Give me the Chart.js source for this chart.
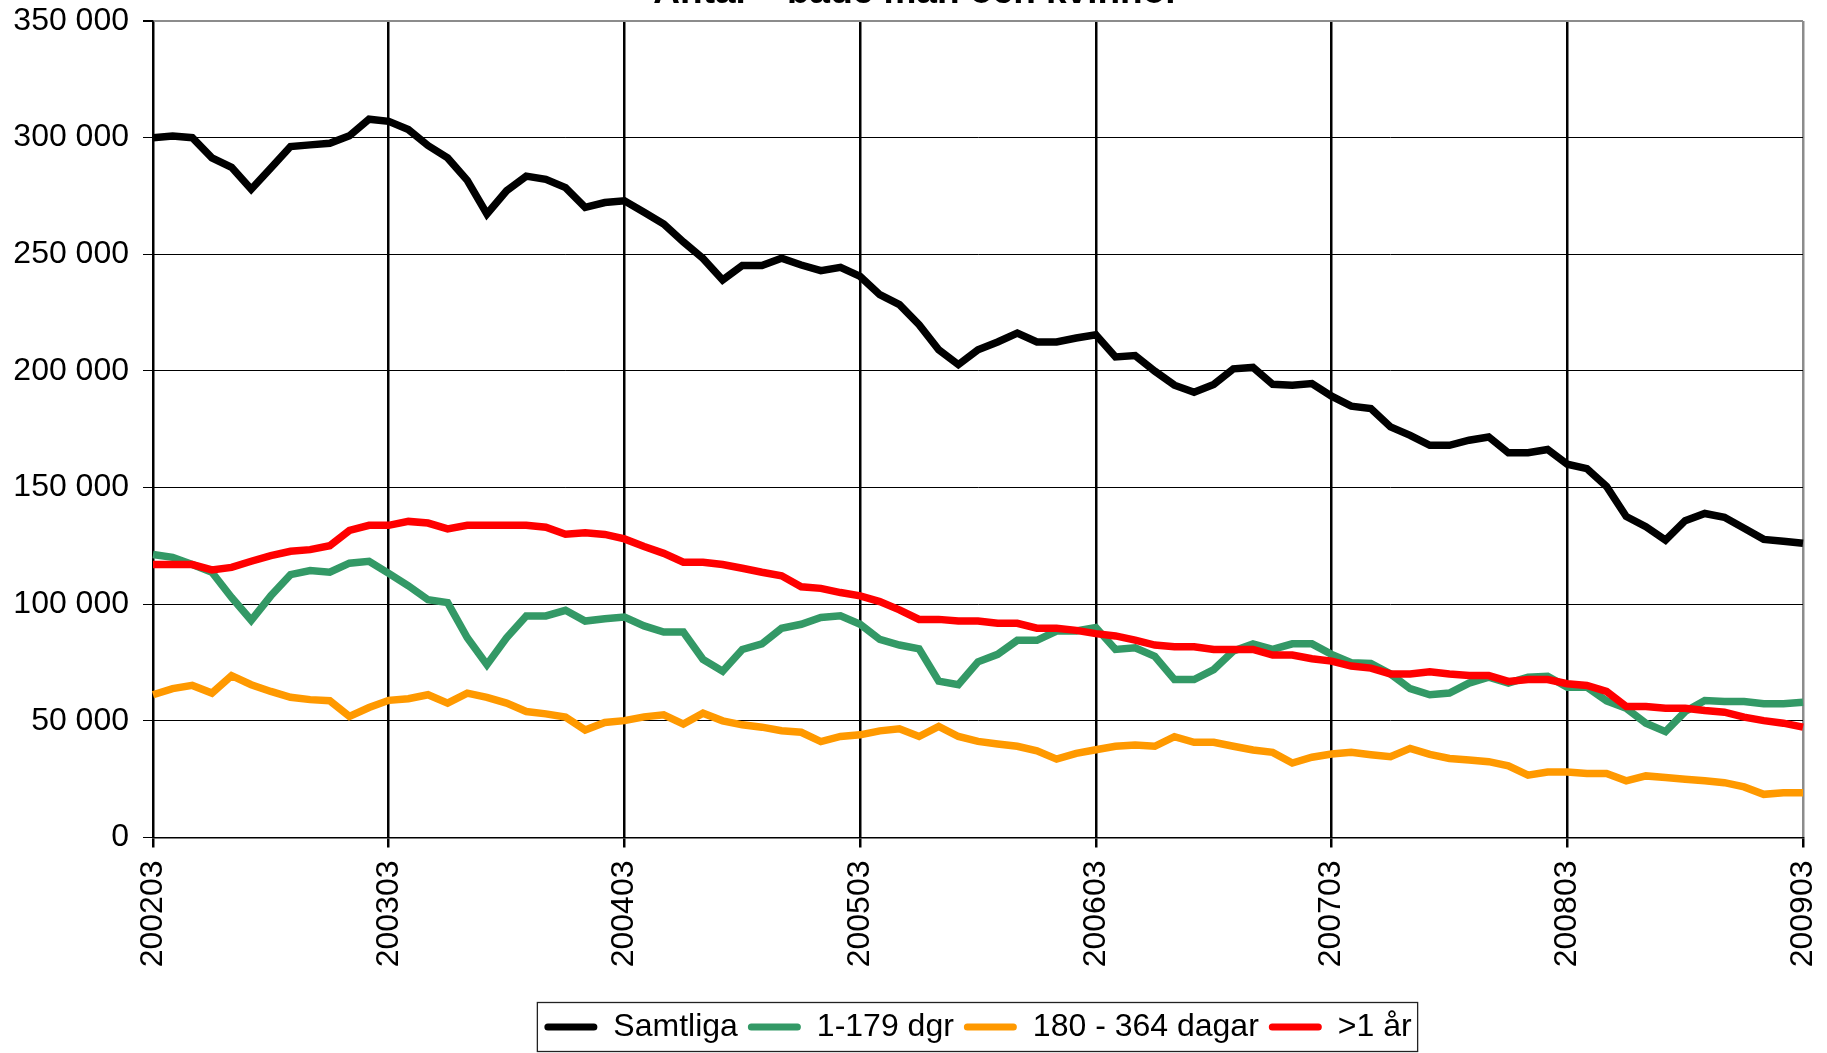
<!DOCTYPE html>
<html>
<head>
<meta charset="utf-8">
<script src="https://cdn.jsdelivr.net/npm/chart.js@4.4.0/dist/chart.umd.min.js"></script>
<style>
  html, body { margin: 0; padding: 0; background: #fff; overflow: hidden; }
  canvas { display: block; }
</style>
</head>
<body>
<canvas id="chart" width="1827" height="1053"></canvas>
<script>
"use strict";

// --- data --------------------------------------------------------------------
const TITLE = "Antal \u2013 både män och kvinnor";
const FIRST_YEAR = 2002, LAST_YEAR = 2009;
const months = [];
for (let y = FIRST_YEAR; y <= LAST_YEAR; y++) {
  for (let m = 1; m <= 12; m++) {
    if (y === FIRST_YEAR && m < 3) continue;
    if (y === LAST_YEAR && m > 3) break;
    months.push(String(y) + String(m).padStart(2, "0"));
  }
}

const seriesNames = ["Samtliga", "1-179 dgr", "180 - 364 dagar", ">1 år"];

const samtliga = [
  300000, 300700, 300000, 291300, 287300, 277900, 287000, 296200, 296900, 297600, 300800, 307900,
  307000, 303500, 296600, 291300, 281700, 267300, 277200, 283500, 282100, 278600, 270100, 272200,
  272900, 268000, 263000, 255300, 248200, 239000, 245200, 245200, 248300, 245400, 243000, 244400,
  240500, 232700, 228400, 219800, 209100, 202700, 209100, 212400, 216200, 212400, 212400, 214100,
  215500, 206000, 206600, 199900, 193900, 190900, 194200, 200900, 201500, 194300, 193900, 194600,
  189200, 184900, 183900, 176000, 172400, 168100, 168100, 170300, 171700, 164900, 164900, 166300,
  160000, 158100, 150500, 137600, 133200, 127500, 135800, 138900, 137300, 132600, 127800, 127000,
  126100
];
const dgr1_179 = [
  121300, 120100, 117000, 113700, 102900, 93100, 103600, 112700, 114400, 113700, 117600, 118400,
  113200, 107900, 101900, 100700, 85600, 74100, 85600, 95000, 95000, 97400, 92800, 93800,
  94500, 90700, 88100, 88100, 76300, 71300, 80600, 83000, 89700, 91400, 94300, 95000,
  91400, 84900, 82500, 80900, 67000, 65500, 75300, 78500, 84500, 84500, 88500, 88500,
  90000, 80600, 81300, 77700, 67700, 67700, 72000, 79900, 83000, 80600, 83000, 83000,
  78500, 74900, 74600, 70100, 63800, 61200, 61900, 66200, 68700, 66200, 68700, 69100,
  64400, 64400, 58600, 55400, 49000, 45400, 54000, 58700, 58300, 58300, 57300, 57300,
  58000
];
const dagar180_364 = [
  61200, 63800, 65200, 61900, 69400, 65500, 62600, 60100, 59100, 58600, 51900, 55700,
  58800, 59500, 61200, 57600, 61900, 60100, 57600, 54000, 53000, 51600, 46100, 49300,
  50100, 51700, 52600, 48600, 53300, 50000, 48300, 47300, 45800, 45100, 41100, 43300,
  44000, 45700, 46600, 43300, 47600, 43300, 41200, 40100, 39100, 37200, 33600, 36100,
  37600, 39100, 39700, 39100, 43200, 40800, 40800, 39100, 37500, 36500, 31900, 34400,
  35800, 36500, 35500, 34600, 38200, 35600, 33900, 33200, 32500, 30700, 26700, 28100,
  28100, 27400, 27400, 24300, 26400, 25700, 25000, 24300, 23500, 21700, 18500, 19200,
  19200
];
const over1ar = [
  117000, 117000, 117000, 114700, 115800, 118400, 120800, 122700, 123400, 125100, 131600, 133800,
  133800, 135500, 134800, 132300, 133800, 133800, 133800, 133800, 133000, 130000, 130600, 129900,
  128000, 124700, 121800, 118000, 118000, 117000, 115400, 113700, 112200, 107500, 106800, 105000,
  103600, 101100, 97600, 93500, 93500, 92800, 92800, 91800, 91800, 89700, 89700, 88800,
  87400, 86400, 84600, 82500, 81800, 81800, 80600, 80600, 80600, 78200, 78200, 76600,
  75600, 73500, 72600, 70100, 70100, 71000, 70100, 69400, 69400, 66900, 67700, 67700,
  65900, 65200, 62600, 56200, 56200, 55400, 55400, 54400, 53700, 51600, 50100, 49000,
  47300
];

const Y_MAX = 350000, Y_STEP = 50000;

// --- stil ----------------------------------------------------------------------
const FONT = '"Liberation Sans", Arial, sans-serif';
const COLORS = ["#000000", "#339966", "#ff9900", "#ff0000"];
Chart.defaults.font.family = FONT;
Chart.defaults.font.size = 32;
Chart.defaults.color = "#000";

function fmtThousands(v) {
  return String(v).replace(/\B(?=(\d{3})+(?!\d))/g, " ");
}

// titeln sticker upp ovanför bilden, bara nederkanten syns
const titlePlugin = {
  id: "cutTitle",
  afterDraw(chart) {
    const ctx = chart.ctx;
    ctx.save();
    ctx.font = "bold 37px " + FONT;
    ctx.fillStyle = "#000";
    ctx.textAlign = "center";
    ctx.textBaseline = "alphabetic";
    ctx.fillText(TITLE, chart.width / 2 + 3, 3);
    ctx.restore();
  }
};

// ram runt legenden
const legendBox = {
  id: "legendBox",
  afterDraw(chart) {
    const hb = chart.legend && chart.legend.legendHitBoxes;
    if (!hb || !hb.length) return;
    const last = hb[hb.length - 1];
    const cy = hb[0].top + hb[0].height / 2;
    const ctx = chart.ctx;
    ctx.save();
    ctx.strokeStyle = "#222";
    ctx.lineWidth = 1.3;
    ctx.strokeRect(hb[0].left - 7, cy - 24.5, last.left + last.width + 6 - (hb[0].left - 7), 49);
    ctx.restore();
  }
};

const datasets = [samtliga, dgr1_179, dagar180_364, over1ar].map((d, i) => ({
  label: seriesNames[i],
  data: d,
  borderColor: COLORS[i],
  backgroundColor: COLORS[i],
  borderWidth: 7.5,
  pointRadius: 0,
  tension: 0,
  order: 3 - i          // sista serien ritas överst, som i Excel
}));

new Chart(document.getElementById("chart"), {
  type: "line",
  data: { labels: months, datasets },
  plugins: [titlePlugin, legendBox],
  options: {
    responsive: false,
    animation: false,
    layout: { padding: { left: 0, right: 24, top: 21, bottom: 0 } },
    elements: { line: { borderJoinStyle: "miter", borderCapStyle: "butt" } },
    plugins: {
      tooltip: { enabled: false },
      legend: {
        position: "bottom",
        fullSize: false,
        labels: {
          boxWidth: 53,
          boxHeight: 7,
          padding: 10,
          color: "#000",
          font: { size: 32 },
          sort: (a, b) => a.datasetIndex - b.datasetIndex,
          generateLabels(chart) {
            const items = Chart.defaults.plugins.legend.labels.generateLabels(chart);
            items.forEach((it) => { it.lineWidth = 0; it.borderRadius = 3.5; it.fillStyle = it.strokeStyle; });
            return items;
          }
        }
      }
    },
    scales: {
      x: {
        type: "category",
        offset: false,
        ticks: {
          autoSkip: false,
          minRotation: 90,
          maxRotation: 90,
          padding: 13,
          color: "#000",
          callback(v, i) { return i % 12 === 0 ? this.getLabelForValue(v) : null; }
        },
        grid: {
          color: (c) => (c.tick && c.tick.label) ? (c.tick.value === months.length - 1 ? "#8c8c8c" : "#000") : "rgba(0,0,0,0)",
          tickColor: (c) => (c.tick && c.tick.label) ? "#000" : "rgba(0,0,0,0)",
          lineWidth: 2.5,
          tickLength: 10
        },
        border: { color: "#000", width: 1.5 },
        afterFit(s) { s.height = 163.5; s.paddingLeft = 0; s.paddingRight = 0; }
      },
      y: {
        min: 0,
        max: Y_MAX,
        ticks: { stepSize: Y_STEP, padding: 14, color: "#000", callback: (v) => fmtThousands(v) },
        grid: {
          color: (c) => c.tick && c.tick.value === Y_MAX ? "#8c8c8c" : "#000",
          lineWidth: (c) => c.tick && c.tick.value === Y_MAX ? 2 : 1,
          tickColor: "#000",
          tickLength: 10
        },
        border: { color: "#000", width: 1.5 },
        afterFit(s) { s.width = 153; s.paddingTop = 0; s.paddingBottom = 0; }
      }
    }
  }
});
</script>
</body>
</html>
